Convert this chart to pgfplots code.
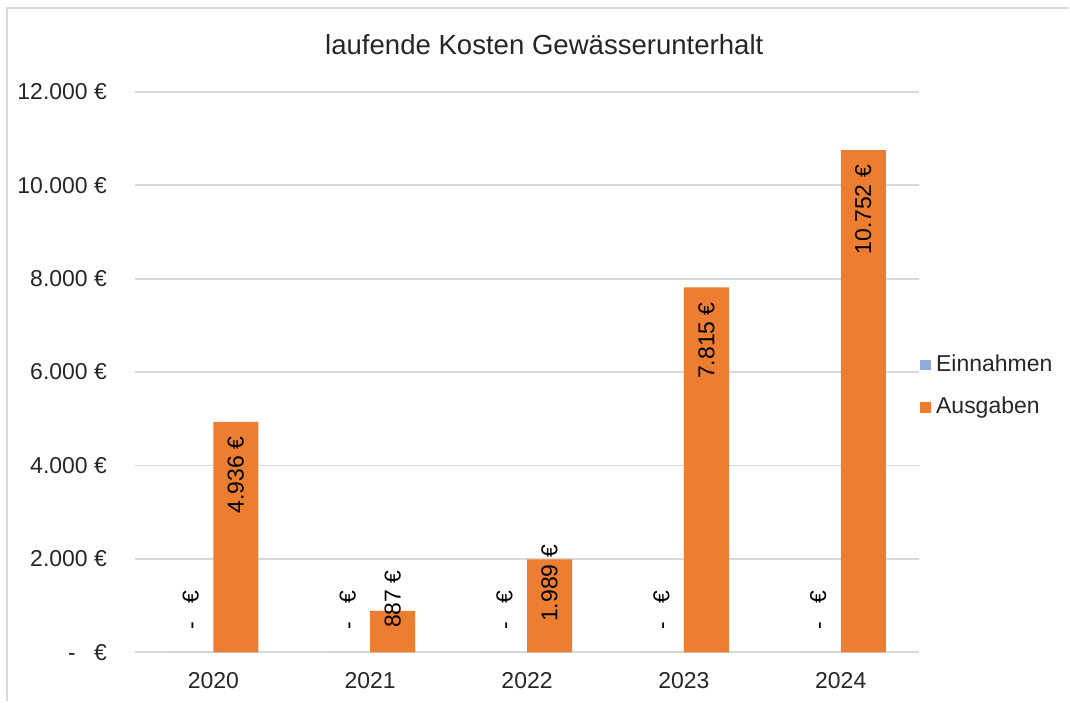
\documentclass[border=0pt]{standalone}
\usepackage{fontspec}
\setmainfont{Liberation Sans}
\usepackage{pgfplots}
\usepackage{pgfplotstable}
\pgfplotsset{compat=1.18}

\definecolor{einblau}{HTML}{8FAADC}
\definecolor{ausorange}{HTML}{ED7D31}
\definecolor{gitter}{HTML}{D9D9D9}

\newcommand\nulleuro{-\hspace{0.8em}€}

% Werte je Jahr (0 = 2020 ... 4 = 2024)
\pgfplotstableread{
jahr einnahmen ausgaben
0 0 4936
1 0 887
2 0 1989
3 0 7815
4 0 10752
}\kosten

% Beschriftungen, die oben im Balken enden
\pgfplotstableread[col sep=comma]{
x,y,text
0.1435,4626,4.936 €
3.1435,7505,7.815 €
4.1435,10442,10.752 €
}\labeloben

% Beschriftungen, die knapp ueber der Nulllinie beginnen
\pgfplotstableread[col sep=comma]{
x,y,text
1.1435,513,887 €
2.1435,642,1.989 €
-0.1435,470,\nulleuro
0.8565,470,\nulleuro
1.8565,470,\nulleuro
2.8565,470,\nulleuro
3.8565,470,\nulleuro
}\labelunten

\begin{document}
\begin{tikzpicture}
\begin{axis}[
    scale only axis,
    width=341.5pt, height=244pt,
    xmin=-0.5, xmax=4.5,
    ymin=0, ymax=12000,
    scaled y ticks=false,
    clip=false,
    axis line style={draw=none},
    major tick length=0pt,
    xtick={0,1,2,3,4},
    xticklabels={2020,2021,2022,2023,2024},
    ytick={0,2000,4000,6000,8000,10000,12000},
    yticklabels={\nulleuro,2.000 €,4.000 €,6.000 €,8.000 €,10.000 €,12.000 €},
    every tick label/.append style={inner sep=0pt, font=\normalsize, text=black!85},
    xticklabel style={yshift=-8.7pt},
    yticklabel style={xshift=-12pt},
    ymajorgrids,
    grid style={gitter, line width=0.8pt},
    legend style={at={(1.0,0.475)}, anchor=west, draw=none, fill=none,
        inner sep=0pt, font=\normalsize, row sep=9.7pt,
        nodes={inner sep=0pt, text=black!85},
        /tikz/every odd column/.append style={column sep=2.4pt}},
    legend cell align=left,
    legend image code/.code={\fill[#1] (0pt,-2.3pt) rectangle (4.8pt,2.3pt);},
]
\addplot[ybar, bar width=0.287, bar shift=-0.1435, fill=einblau, draw=none]
    table[x=jahr, y=einnahmen] {\kosten};
\addlegendentry{Einnahmen}
\addplot[ybar, bar width=0.287, bar shift=0.1435, fill=ausorange, draw=none]
    table[x=jahr, y=ausgaben] {\kosten};
\addlegendentry{Ausgaben}

\addplot[forget plot, draw=none, mark=none, nodes near coords,
    point meta=explicit symbolic,
    every node near coord/.append style={rotate=90, anchor=east,
        inner sep=0pt, font=\normalsize, text=black}]
    table[x=x, y=y, meta=text] {\labeloben};
\addplot[forget plot, draw=none, mark=none, nodes near coords,
    point meta=explicit symbolic,
    every node near coord/.append style={rotate=90, anchor=west,
        inner sep=0pt, font=\normalsize, text=black}]
    table[x=x, y=y, meta=text] {\labelunten};

\node[font=\fontsize{12}{14}\selectfont, text=black!85]
    at (rel axis cs:0.522,1.0838) {laufende Kosten Gewässerunterhalt};
\draw[gitter, line width=0.9pt] (rel axis cs:-0.1631,-0.0873)
    -- (rel axis cs:-0.1631,1.1497) -- (rel axis cs:1.191,1.1497);
\path (rel axis cs:-0.172,-0.0873) rectangle (rel axis cs:1.191,1.164);
\end{axis}
\end{tikzpicture}
\end{document}
